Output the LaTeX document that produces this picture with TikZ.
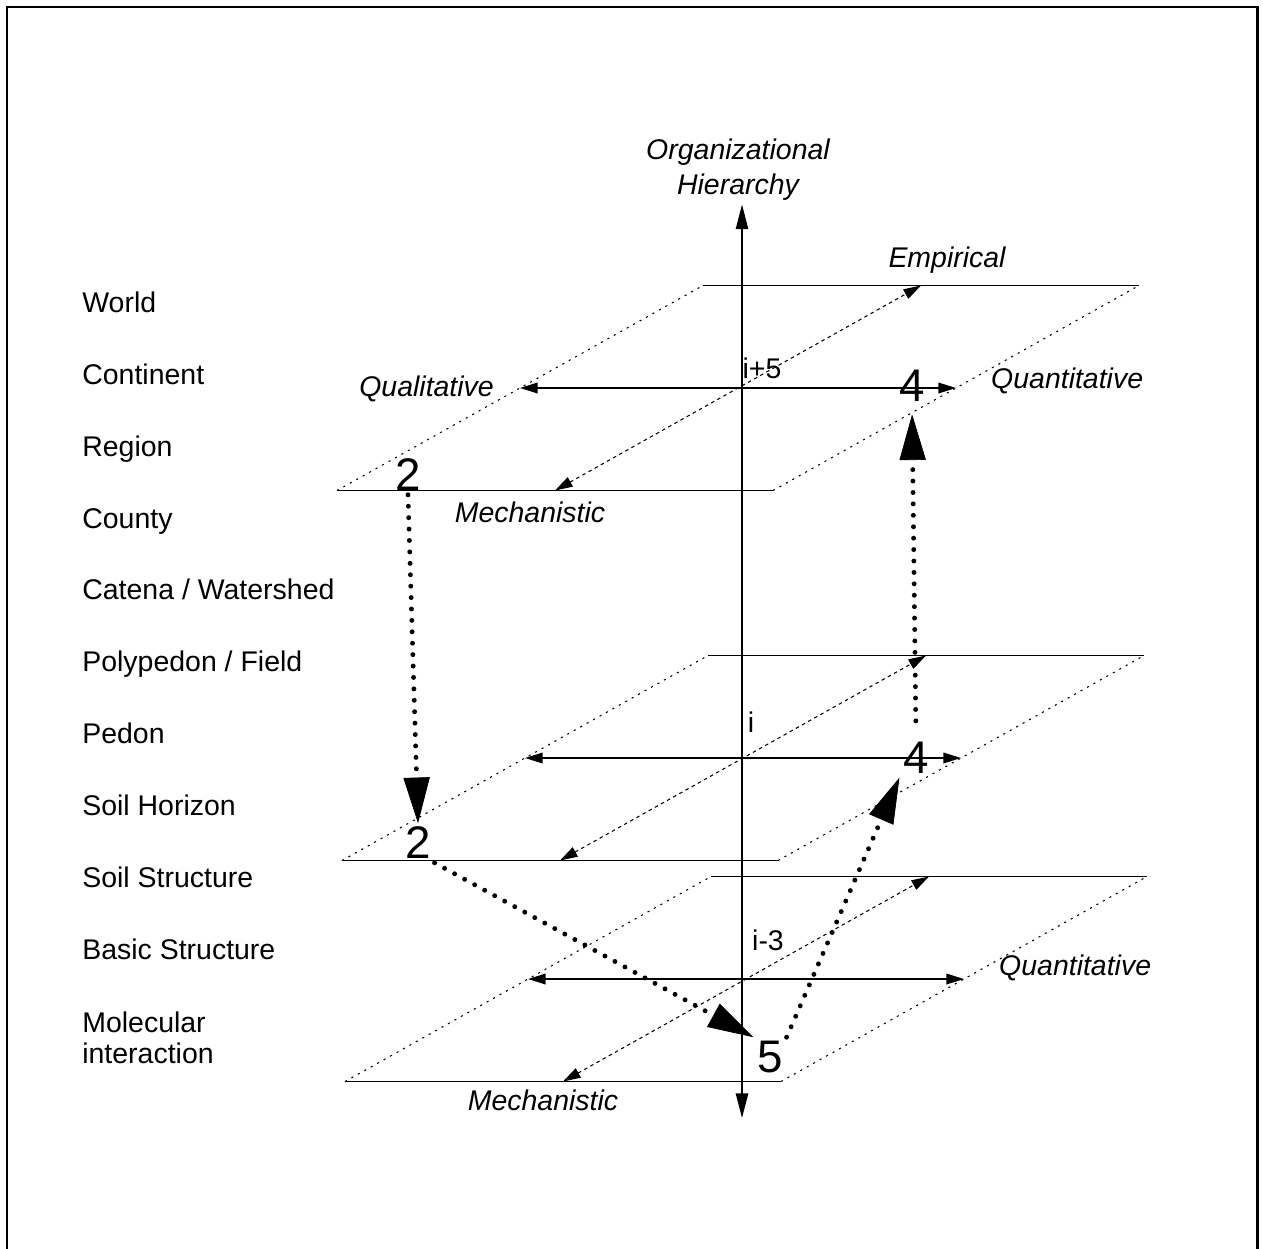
\documentclass[tikz,border=0pt]{standalone}
\usepackage{fontspec}
\setmainfont{Liberation Sans}
\usetikzlibrary{arrows.meta,matrix,positioning}

\tikzset{
  lvl/.style={font=\fontsize{16.2}{17.6}\selectfont},
  mode/.style={font=\fontsize{16.2}{19.8}\selectfont\itshape},
  stepnum/.style={font=\fontsize{26}{30}\selectfont, inner sep=2pt},
  rim/.style={line width=1.1pt},
  flank/.style={line width=0.6pt, dash pattern=on 1.2pt off 3pt},
  spanarrow/.style={line width=1pt,
    {Triangle[length=10pt,width=6pt]}-{Triangle[length=10pt,width=6pt]}},
  spandots/.style={line width=0.6pt, dash pattern=on 2pt off 2pt,
    {Triangle[length=10pt,width=6pt]}-{Triangle[length=10pt,width=6pt]}},
  hieraxis/.style={line width=0.9pt,
    {Triangle[length=14pt,width=7pt]}-{Triangle[length=14pt,width=7pt]}},
  leap/.style={line width=2.8pt, line cap=round, dash pattern=on 0pt off 6.5pt,
    -{Triangle[length=26pt,width=15pt,line width=0.4pt]}}
}

% one level of the hierarchy: #1 name, #2 #3 centre
\def\SoilPlane#1#2#3{
  \begin{scope}[shift={(#2,#3)}]
    \coordinate (#1-fl) at (-401,102.5);
    \coordinate (#1-fr) at (35,102.5);
    \coordinate (#1-br) at (401,-102.5);
    \coordinate (#1-bl) at (-35,-102.5);
    \coordinate (#1-l) at (-218,0);
    \coordinate (#1-r) at (218,0);
    \coordinate (#1-f) at (-183,102.5);
    \coordinate (#1-b) at (183,-102.5);
  \end{scope}
  \draw[rim] (#1-fl) -- (#1-fr);
  \draw[rim] (#1-bl) -- (#1-br);
  \draw[flank] (#1-fl) -- (#1-bl);
  \draw[flank] (#1-fr) -- (#1-br);
  \draw[spanarrow] (#1-l) -- (#1-r);
  \draw[spandots] (#1-f) -- (#1-b);
}

\begin{document}
\begin{tikzpicture}[x=0.02cm, y=-0.02cm]
  \path[fill=white, use as bounding box] (0,0) rectangle (1263,1248);
  \draw[line width=1.7pt] (7,1260) -- (7,7) -- (1257,7) -- (1257,1260);

  \matrix (levels)
  [matrix of nodes,
  nodes={lvl, anchor=west, inner sep=0pt, text height=11.5pt, text depth=3.5pt},
  row sep={1.44cm,between origins},
  matrix anchor=levels-1-1.west] at (82,305)
  {
   World \\
   Continent \\
   Region \\
   County \\
   Catena / Watershed \\
   Polypedon / Field \\
   Pedon \\
   Soil Horizon \\
   Soil Structure \\
   Basic Structure \\[0.34cm]
   |[text height={}, text depth={}]| \begin{tabular}{@{}l@{}}Molecular\\interaction\end{tabular} \\
  };

  \SoilPlane{top}{738}{388}
  \SoilPlane{mid}{743}{758}
  \SoilPlane{low}{746}{979}

  % axis
  \node (org) [mode, align=center, inner sep=2pt] at (738,170) {Organizational\\Hierarchy};
  \coordinate (axbot) at (742,1118);
  \draw[hieraxis] (axbot) -- (axbot |- org.south);

  \node[mode] (emp) at (947,260) {Empirical};
  \node[mode, anchor=east] (qual) at (500,389) {Qualitative};
  \node[mode, anchor=west] (quantA) at (985,381) {Quantitative};
  \node[mode] (mechA) at (530,512) {Mechanistic};
  \node[mode, anchor=west] (quantB) at (993,968) {Quantitative};
  \node[mode] (mechB) at (543,1100) {Mechanistic};

  \node[lvl] (lvA) at (762,368) {i+5};
  \node[lvl] (lvB) at (751,722) {i};
  \node[lvl] (lvC) at (768,940) {i-3};

  \node[stepnum] (twoA) at (408,475) {2};
  \node[stepnum] (twoB) at (418,843) {2};
  \node[stepnum] (fourA) at (912,386) {4};
  \node[stepnum] (fourB) at (916,758) {4};
  \node[stepnum] (five) at (770,1057) {5};

  \draw[leap] (twoA.south) -- (twoB.north);
  \draw[leap] (twoB.south east) -- (five.north west);
  \draw[leap] (five.north east) -- (fourB.south west);
  \draw[leap, shorten <=10pt, shorten >=5pt] (fourB.north) -- (fourA.south);
\end{tikzpicture}
\end{document}
